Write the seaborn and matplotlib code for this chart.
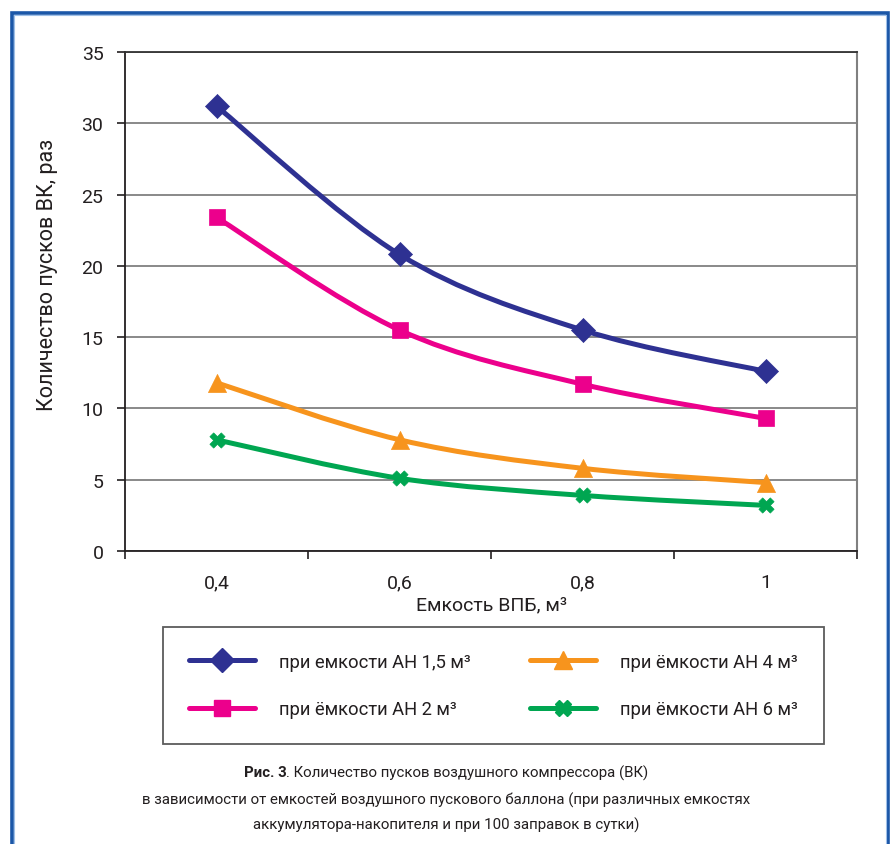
import numpy as np
import pandas as pd
import matplotlib
matplotlib.use('Agg')
import matplotlib.pyplot as plt
import seaborn as sns
from matplotlib.path import Path
from matplotlib.patches import PathPatch
from matplotlib.lines import Line2D

# ---------------- data ----------------
categories = ['0,4', '0,6', '0,8', '1']
an_1_5 = [31.2, 20.8, 15.5, 12.6]
an_2 = [23.4, 15.5, 11.7, 9.3]
an_4 = [11.8, 7.8, 5.8, 4.8]
an_6 = [7.8, 5.1, 3.9, 3.2]
series_labels = ['при емкости АН 1,5 м³', 'при ёмкости АН 2 м³',
                 'при ёмкости АН 4 м³', 'при ёмкости АН 6 м³']
y_ticks = [0, 5, 10, 15, 20, 25, 30, 35]

colors = ['#2e3192', '#ec008c', '#f7941d', '#00a651']
markers = ['D', 's', '^', 'X']
msizes = [150, 120, 170, 120]

sns.set_theme(style='white')
plt.rcParams['font.family'] = ['Roboto', 'DejaVu Sans']

fig = plt.figure(figsize=(8.92, 8.45), dpi=100)
ax = fig.add_axes([125/892, 1-552/845, (857-125)/892, (552-53)/845])

series = [an_1_5, an_2, an_4, an_6]
pos = np.arange(len(categories))


def smooth_path(xs, ys):
    pts = np.column_stack([xs, ys]).astype(float)
    n = len(pts)
    verts = [pts[0]]
    codes = [Path.MOVETO]
    for i in range(n - 1):
        p0 = pts[i - 1] if i > 0 else pts[i]
        p1 = pts[i]
        p2 = pts[i + 1]
        p3 = pts[i + 2] if i + 2 < n else pts[i + 1]
        c1 = p1 + (p2 - p0) / 6.0
        c2 = p2 - (p3 - p1) / 6.0
        verts += [c1, c2, p2]
        codes += [Path.CURVE4] * 3
    return Path(verts, codes)


for vals, col, mk, ms, lab in zip(series, colors, markers, msizes, series_labels):
    df = pd.DataFrame({'pos': pos, 'value': vals})
    patch = PathPatch(smooth_path(df['pos'], df['value']), fill=False,
                      edgecolor=col, lw=3.6, capstyle='round', joinstyle='round', zorder=3)
    ax.add_patch(patch)
    sns.scatterplot(data=df, x='pos', y='value', marker=mk, s=ms, color=col,
                    edgecolor=col, linewidth=0.5, ax=ax, zorder=4, legend=False)

ax.set_xlim(-0.5, len(categories) - 0.5)
ax.set_ylim(0, 35)
ax.set_yticks(y_ticks)
ax.set_yticklabels([str(t) for t in y_ticks])
ax.set_xticks(pos)
ax.set_xticklabels(categories)
ax.set_xticks(np.arange(-0.5, len(categories), 1.0), minor=True)

ax.tick_params(axis='x', which='major', length=0, pad=16, labelsize=14, colors='#231f20')
ax.tick_params(axis='x', which='minor', length=5.5, width=1.2, color='#231f20', direction='out', bottom=True)
ax.tick_params(axis='y', which='major', length=5.5, width=1.2, pad=10, labelsize=14,
               color='#231f20', labelcolor='#231f20', direction='out', left=True)

ax.grid(axis='y', color='#808080', lw=1.3)
ax.grid(axis='x', visible=False)
ax.set_axisbelow(True)

for s in ['left', 'bottom']:
    ax.spines[s].set_color('#231f20')
    ax.spines[s].set_linewidth(1.3)
ax.spines['top'].set_color('#333333')
ax.spines['top'].set_linewidth(1.3)
ax.spines['right'].set_color('#808080')
ax.spines['right'].set_linewidth(1.5)

ax.set_xlabel('Емкость ВПБ, м³', fontsize=14, color='#231f20', labelpad=3)
ax.set_ylabel('Количество пусков ВК, раз', fontsize=15.5, color='#231f20')
ax.yaxis.set_label_coords((58 - 125) / 732, (552 - 275) / 499)

# legend
handles = [Line2D([], [], color=c, lw=3.6, marker=m, markersize=ms ** 0.5,
                  markeredgecolor=c) for c, m, ms in zip(colors, markers, msizes)]
leg = fig.legend(handles, series_labels, ncol=2, loc='upper left',
                 bbox_to_anchor=(163/892, 1-628/845), fontsize=13.2,
                 frameon=True, fancybox=False, edgecolor='#333333',
                 handlelength=3.6, handletextpad=1.35, columnspacing=3.2,
                 borderpad=1.4, labelspacing=1.6, borderaxespad=0)
leg.get_frame().set_linewidth(1.3)
for t in leg.get_texts():
    t.set_color('#231f20')

# caption
cap_color = '#231f20'
cap_size = 10.8
fig.canvas.draw()
r = fig.canvas.get_renderer()
bold = fig.text(0, 1 - 773/845, 'Рис. 3', fontsize=cap_size, fontweight='bold', color=cap_color,
                ha='left', va='center')
rest = fig.text(0, 1 - 773/845, '. Количество пусков воздушного компрессора (ВК)',
                fontsize=cap_size, color=cap_color, ha='left', va='center')
wb = bold.get_window_extent(r).width
wr = rest.get_window_extent(r).width
x0 = (892 - (wb + wr)) / 2
bold.set_x(x0 / 892)
rest.set_x((x0 + wb) / 892)
fig.text(0.5, 1 - 800/845,
         'в зависимости от емкостей воздушного пускового баллона (при различных емкостях',
         fontsize=cap_size, color=cap_color, ha='center', va='center')
fig.text(0.5, 1 - 825/845, 'аккумулятора-накопителя и при 100 заправок в сутки)',
         fontsize=cap_size, color=cap_color, ha='center', va='center')

# blue frame
bx0, bx1, by = 12/892, 888/892, 1 - 14/845
fig.add_artist(Line2D([bx0, bx0, bx1, bx1], [0, by, by, 0], color='#1b57a8', lw=2.6,
                      transform=fig.transFigure, solid_joinstyle='miter'))
fig.add_artist(Line2D([bx0 + 2/892, bx0 + 2/892, bx1 - 2/892, bx1 - 2/892],
                      [0, by - 2/845, by - 2/845, 0], color='#9fc0e8', lw=0.8,
                      transform=fig.transFigure))

fig.savefig('out.png', dpi=100)
